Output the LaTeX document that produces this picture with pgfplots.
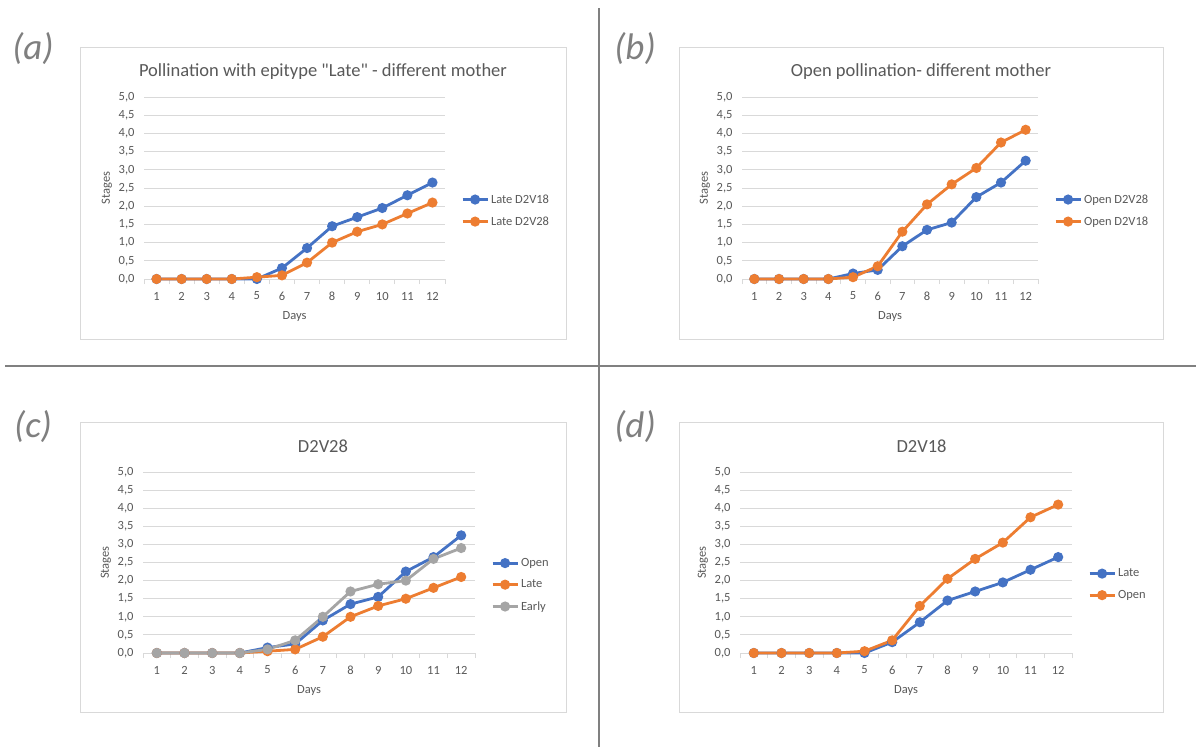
\documentclass[border=0pt]{standalone}
\usepackage{pgfplots}
\pgfplotsset{compat=1.18}
\usepackage{fontspec}
\setmainfont{Carlito}[Ligatures=TeXOff]
\definecolor{xblue}{HTML}{4472C4}
\definecolor{xorange}{HTML}{ED7D31}
\definecolor{xgray}{HTML}{A5A5A5}
\definecolor{txt}{HTML}{595959}
\definecolor{gridc}{HTML}{D9D9D9}
\definecolor{lbl}{HTML}{7F7F7F}
\definecolor{divc}{HTML}{808080}

\pgfplotstableread{
day lateA lateB openA openB early
1  0     0     0     0     0
2  0     0     0     0     0
3  0     0     0     0     0
4  0     0     0     0     0
5  0     0.05  0.15  0.05  0.10
6  0.30  0.10  0.25  0.35  0.35
7  0.85  0.45  0.90  1.30  1.00
8  1.45  1.00  1.35  2.05  1.70
9  1.70  1.30  1.55  2.60  1.90
10 1.95  1.50  2.25  3.05  2.00
11 2.30  1.80  2.65  3.75  2.60
12 2.65  2.10  3.25  4.10  2.90
}\datatable

\pgfplotsset{
  excel/.style={
    scale only axis, clip=false,
    xmin=0.5, xmax=12.5, ymin=0, ymax=5,
    axis lines*=left,
    x axis line style={draw=gridc, line width=1pt, -},
    y axis line style={draw=none},
    xtick={1,2,3,4,5,6,7,8,9,10,11,12},
    xticklabels={1,2,3,4,5,6,7,8,9,10,11,12},
    ytick={0,0.5,1,1.5,2,2.5,3,3.5,4,4.5,5},
    yticklabels={{0,0},{0,5},{1,0},{1,5},{2,0},{2,5},{3,0},{3,5},{4,0},{4,5},{5,0}},
    major tick length=0pt, minor tick length=5pt,
    minor xtick={0.5,1.5,2.5,3.5,4.5,5.5,6.5,7.5,8.5,9.5,10.5,11.5,12.5},
    tick align=outside,
    minor tick style={draw=gridc, line width=1pt},
    ymajorgrids, major grid style={draw=gridc, line width=1pt},
    ticklabel style={font=\fontsize{12.5}{14}\selectfont, text=txt},
    yticklabel style={xshift=-6pt},
    xticklabel style={anchor=center, yshift=-17pt},
    xlabel=Days, ylabel=Stages,
    every axis x label/.style={at={(axis description cs:0.5,0)}, anchor=center, yshift=-37pt, font=\fontsize{12.5}{14}\selectfont, text=txt},
    every axis y label/.style={at={(axis description cs:0,0.5)}, xshift=-37pt, anchor=center, rotate=90, font=\fontsize{12.5}{14}\selectfont, text=txt},
    title style={at={(axis description cs:0.5,1)}, anchor=center, yshift=19pt, font=\fontsize{18.5}{20}\selectfont, text=txt},
    legend cell align=left,
    legend style={draw=none, fill=none, inner sep=0pt, row sep=8pt,
      at={(axis description cs:1,0.376)}, anchor=west, xshift=16pt,
      font=\fontsize{12.5}{14}\selectfont, text=txt},
    legend image code/.code={\draw[mark repeat=2,mark phase=2,##1] plot coordinates {(0pt,0pt) (12.5pt,0pt) (25pt,0pt)};},
  },
  sblue/.style={color=xblue, line width=2.8pt, mark=*, mark size=3.6pt, mark options={solid}},
  sorange/.style={color=xorange, line width=2.8pt, mark=*, mark size=3.6pt, mark options={solid}},
  sgray/.style={color=xgray, line width=2.8pt, mark=*, mark size=3.6pt, mark options={solid}},
}

\begin{document}
\begin{tikzpicture}
\useasboundingbox (0pt,0pt) rectangle (1196pt,-747pt);
\fill[white] (0pt,0pt) rectangle (1196pt,-747pt);
% chart boxes
\draw[gridc, line width=1pt] (80pt,-47pt) rectangle (566pt,-339pt);
\draw[gridc, line width=1pt] (679pt,-47pt) rectangle (1163pt,-339pt);
\draw[gridc, line width=1pt] (80pt,-422pt) rectangle (566pt,-712pt);
\draw[gridc, line width=1pt] (679pt,-422pt) rectangle (1163pt,-712pt);
% dividers
\draw[divc, line width=1.3pt] (599pt,-8pt) -- (599pt,-747pt);
\draw[divc, line width=1.3pt] (5pt,-366pt) -- (1196pt,-366pt);
% panel labels
\node[text=lbl, font=\fontsize{37}{40}\selectfont\itshape] at (33pt,-49pt) {(a)};
\node[text=lbl, font=\fontsize{37}{40}\selectfont\itshape] at (635pt,-49pt) {(b)};
\node[text=lbl, font=\fontsize{37}{40}\selectfont\itshape] at (33pt,-427pt) {(c)};
\node[text=lbl, font=\fontsize{37}{40}\selectfont\itshape] at (635pt,-427pt) {(d)};

% (a)
\begin{axis}[excel, at={(144pt,-279pt)}, anchor=south west, width=301pt, height=182pt,
  title={Pollination with epitype "Late" - different mother}, title style={xshift=28.5pt}]
\addplot[sblue] table[x=day,y=lateA] {\datatable};
\addlegendentry{Late D2V18}
\addplot[sorange] table[x=day,y=lateB] {\datatable};
\addlegendentry{Late D2V28}
\end{axis}

% (b)
\begin{axis}[excel, at={(742pt,-279pt)}, anchor=south west, width=296pt, height=182pt,
  title={Open pollination- different mother}, title style={xshift=31pt}]
\addplot[sblue] table[x=day,y=openA] {\datatable};
\addlegendentry{Open D2V28}
\addplot[sorange] table[x=day,y=openB] {\datatable};
\addlegendentry{Open D2V18}
\end{axis}

% (c)
\begin{axis}[excel, at={(143pt,-653pt)}, anchor=south west, width=332pt, height=181pt,
  title={D2V28}, title style={xshift=14pt, yshift=1pt},
  legend style={at={(axis description cs:1,0.376)}}]
\addplot[sblue] table[x=day,y=openA] {\datatable};
\addlegendentry{Open}
\addplot[sorange] table[x=day,y=lateB] {\datatable};
\addlegendentry{Late}
\addplot[sgray] table[x=day,y=early] {\datatable};
\addlegendentry{Early}
\end{axis}

% (d)
\begin{axis}[excel, at={(740pt,-653pt)}, anchor=south west, width=332pt, height=181pt,
  title={D2V18}, title style={xshift=15.5pt, yshift=1pt},
  legend style={at={(axis description cs:1,0.379)}}]
\addplot[sblue] table[x=day,y=lateA] {\datatable};
\addlegendentry{Late}
\addplot[sorange] table[x=day,y=openB] {\datatable};
\addlegendentry{Open}
\end{axis}
\end{tikzpicture}
\end{document}
